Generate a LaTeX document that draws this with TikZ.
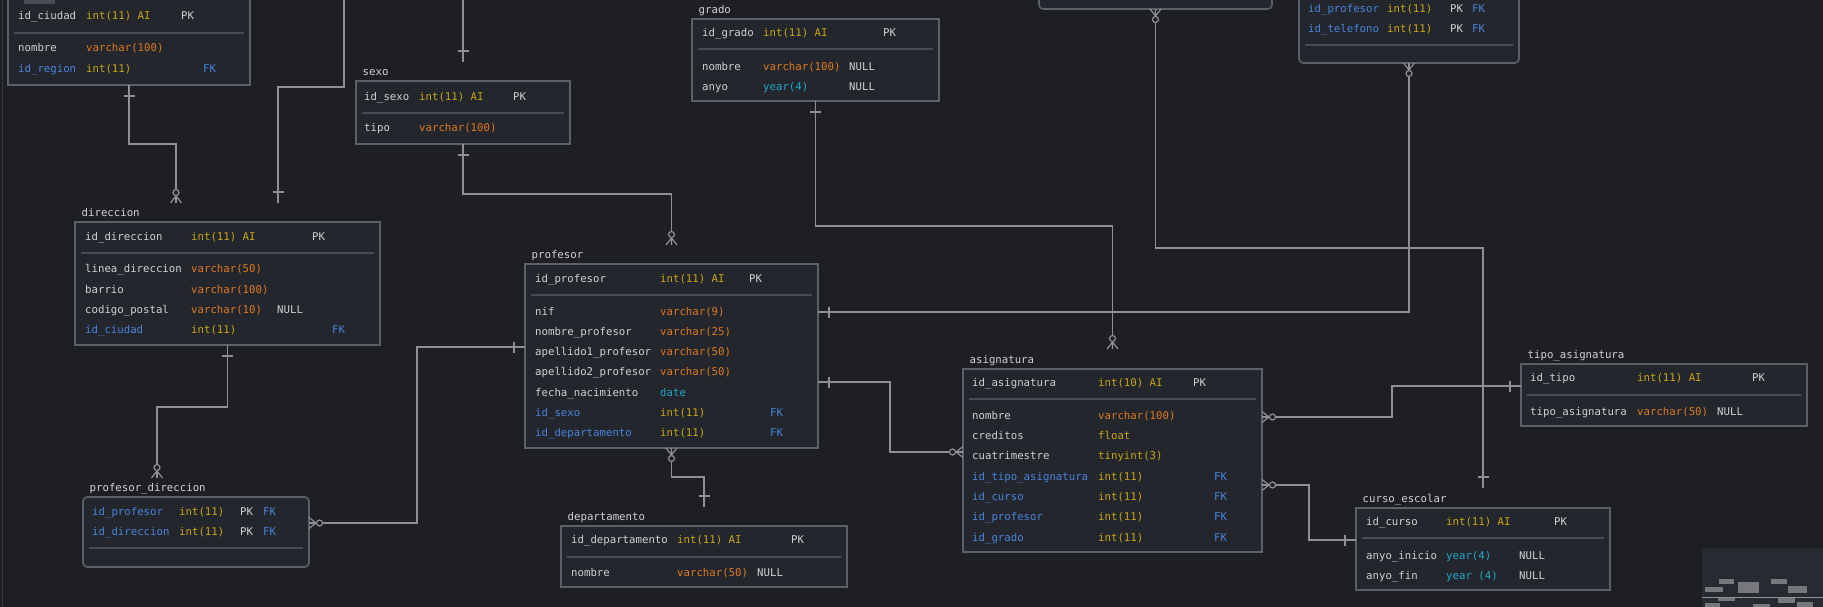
\documentclass[tikz,border=0pt]{standalone}
\usepackage{fontspec}
\newfontfamily\monofam{DejaVu Sans Mono}
\newcommand\cellfont{\monofam\fontsize{10.7}{12}\selectfont}

\definecolor{bg}{HTML}{1E1F23}
\definecolor{tfill}{HTML}{23262D}
\definecolor{tborder}{HTML}{5C6069}
\definecolor{tsep}{HTML}{474B54}
\definecolor{linkc}{HTML}{8E9096}
\definecolor{colw}{HTML}{D2D2D2}
\definecolor{coly}{HTML}{C9A712}
\definecolor{colo}{HTML}{E07A1E}
\definecolor{colb}{HTML}{4A84DC}
\definecolor{colc}{HTML}{22A8C8}
\definecolor{mapbg}{HTML}{272A31}
\definecolor{mapbox}{HTML}{76787D}

\tikzset{
  tbl/.style={draw=tborder, fill=tfill, line width=1.6pt, inner sep=0, outer sep=0, anchor=north west},
  tblr/.style={tbl, rounded corners=4pt},
  sepl/.style={draw=tsep, line width=1.2pt},
  rel/.style={draw=linkc, line width=1.2pt},
  cell/.style={anchor=base west, inner sep=0, yshift=-3.8pt, font=\cellfont},
  tname/.style={cell, text=colw},
  crowmany/.pic={
    \draw[rel] (0,5.5) -- (7,0) -- (0,-5.5) (0,0) -- (7,0);
    \draw[rel, fill=bg] (10.5,0) circle[radius=3pt];
  },
  crowone/.pic={\draw[rel] (11,-5.5) -- (11,5.5);}
}

\begin{document}
\begin{tikzpicture}[x=1pt, y=-1pt]
        \useasboundingbox (0,0) rectangle (1823,607);
        \clip (0,0) rectangle (1823,607);
        \fill[bg] (0,0) rectangle (1823,607);
        \draw[color=tsep!60!bg, line width=1pt] (2,0) -- (2,607);

        % Tables
        \node[tbl, minimum width=242pt, minimum height=105pt] (ciudad) at (8,-20) {};
        \node[tbl, minimum width=214pt, minimum height=63pt] (sexo) at (356,81) {};
        \node[tbl, minimum width=305pt, minimum height=123pt] (direccion) at (75,222) {};
        \node[tblr, minimum width=226pt, minimum height=70pt] (profdir) at (83,497) {};
        \node[tbl, minimum width=293pt, minimum height=184pt] (profesor) at (525,264) {};
        \node[tbl, minimum width=286pt, minimum height=61pt] (departamento) at (561,526) {};
        \node[tbl, minimum width=247pt, minimum height=82pt] (grado) at (692,19) {};
        \node[tblr, minimum width=233pt, minimum height=40pt] (matricula) at (1039,-31) {};
        \node[tblr, minimum width=220pt, minimum height=83pt] (proftel) at (1299,-20) {};
        \node[tbl, minimum width=299pt, minimum height=183pt] (asignatura) at (963,369) {};
        \node[tbl, minimum width=286pt, minimum height=62pt] (tipo) at (1521,364) {};
        \node[tbl, minimum width=254pt, minimum height=82pt] (curso) at (1356,508) {};
        \fill[tborder!70!bg] (24,0) rectangle (55,4);

        % Table names
        \foreach \tb/\name in {sexo/sexo, direccion/direccion, profdir/profesor\_direccion,
            profesor/profesor, departamento/departamento, grado/grado, asignatura/asignatura,
            tipo/tipo\_asignatura, curso/curso\_escolar}
            \node[tname] (\tb-name) at ([shift={(6.5,-9.5)}]\tb.north west) {\name};

        % Separators
        \foreach \a/\b/\y in {14/244/33, 362/564/113, 81/374/253, 89/303/548, 531/812/295,
            567/841/557, 698/933/49, 1305/1513/45, 969/1256/399, 1527/1801/395, 1362/1604/538}
            \draw[sepl] (\a,\y) -- (\b,\y);

        % Columns
        \foreach \x/\y/\cl/\txt [count=\i] in {
            18/16/w/id\_ciudad, 86/16/y/int(11) AI, 181/16/w/PK,
            18/48/w/nombre, 86/48/o/varchar(100),
            18/69/b/id\_region, 86/69/y/int(11), 203/69/b/FK,
            364/97/w/id\_sexo, 419/97/y/int(11) AI, 513/97/w/PK,
            364/128/w/tipo, 419/128/o/varchar(100),
            85/237/w/id\_direccion, 191/237/y/int(11) AI, 312/237/w/PK,
            85/269/w/linea\_direccion, 191/269/o/varchar(50),
            85/290/w/barrio, 191/290/o/varchar(100),
            85/310/w/codigo\_postal, 191/310/o/varchar(10), 277/310/w/NULL,
            85/330/b/id\_ciudad, 191/330/y/int(11), 332/330/b/FK,
            92/512/b/id\_profesor, 179/512/y/int(11), 240/512/w/PK, 263/512/b/FK,
            92/532/b/id\_direccion, 179/532/y/int(11), 240/532/w/PK, 263/532/b/FK,
            535/279/w/id\_profesor, 660/279/y/int(11) AI, 749/279/w/PK,
            535/312/w/nif, 660/312/o/varchar(9),
            535/332/w/nombre\_profesor, 660/332/o/varchar(25),
            535/352/w/apellido1\_profesor, 660/352/o/varchar(50),
            535/372/w/apellido2\_profesor, 660/372/o/varchar(50),
            535/393/w/fecha\_nacimiento, 660/393/c/date,
            535/413/b/id\_sexo, 660/413/y/int(11), 770/413/b/FK,
            535/433/b/id\_departamento, 660/433/y/int(11), 770/433/b/FK,
            571/540/w/id\_departamento, 677/540/y/int(11) AI, 791/540/w/PK,
            571/573/w/nombre, 677/573/o/varchar(50), 757/573/w/NULL,
            702/33/w/id\_grado, 763/33/y/int(11) AI, 883/33/w/PK,
            702/67/w/nombre, 763/67/o/varchar(100), 849/67/w/NULL,
            702/87/w/anyo, 763/87/c/year(4), 849/87/w/NULL,
            1308/9/b/id\_profesor, 1387/9/y/int(11), 1450/9/w/PK, 1472/9/b/FK,
            1308/29/b/id\_telefono, 1387/29/y/int(11), 1450/29/w/PK, 1472/29/b/FK,
            972/383/w/id\_asignatura, 1098/383/y/int(10) AI, 1193/383/w/PK,
            972/416/w/nombre, 1098/416/o/varchar(100),
            972/436/w/creditos, 1098/436/y/float,
            972/456/w/cuatrimestre, 1098/456/y/tinyint(3),
            972/477/b/id\_tipo\_asignatura, 1098/477/y/int(11), 1214/477/b/FK,
            972/497/b/id\_curso, 1098/497/y/int(11), 1214/497/b/FK,
            972/517/b/id\_profesor, 1098/517/y/int(11), 1214/517/b/FK,
            972/538/b/id\_grado, 1098/538/y/int(11), 1214/538/b/FK,
            1530/378/w/id\_tipo, 1637/378/y/int(11) AI, 1752/378/w/PK,
            1530/412/w/tipo\_asignatura, 1637/412/o/varchar(50), 1717/412/w/NULL,
            1366/522/w/id\_curso, 1446/522/y/int(11) AI, 1554/522/w/PK,
            1366/556/w/anyo\_inicio, 1446/556/c/year(4), 1519/556/w/NULL,
            1366/576/w/anyo\_fin, 1446/576/c/year (4), 1519/576/w/NULL}
            \node[cell, text=col\cl] (col-\i) at (\x,\y) {\txt};

        % Link ends
        \coordinate (dirA) at ([shift={(101,-19)}]direccion.north west);
        \coordinate (dirB) at ([shift={(203,-19)}]direccion.north west);
        \coordinate (sexoIn) at ([yshift=19pt]sexo.north);
        \coordinate (profIn) at ([yshift=19pt]profesor.north);
        \coordinate (pdIn) at ([shift={(74,-19)}]profdir.north west);
        \coordinate (pdR) at ([shift={(0,26)}]profdir.north east);
        \coordinate (pfL) at ([shift={(0,83)}]profesor.north west);
        \coordinate (pfR1) at ([shift={(0,48)}]profesor.north east);
        \coordinate (pfR2) at ([shift={(0,118)}]profesor.north east);
        \coordinate (depIn) at ([yshift=19pt]departamento.north);
        \coordinate (asIn) at ([yshift=20pt]asignatura.north);
        \coordinate (asL) at ([shift={(0,83)}]asignatura.north west);
        \coordinate (asR1) at ([shift={(0,48)}]asignatura.north east);
        \coordinate (asR2) at ([shift={(0,116)}]asignatura.north east);
        \coordinate (tipoL) at ([shift={(0,22)}]tipo.north west);
        \coordinate (cursoIn) at ([yshift=20pt]curso.north);
        \coordinate (cursoL) at ([shift={(0,32)}]curso.north west);
        \coordinate (topB) at (344,-5);
        \coordinate (topC) at (463,-5);

        % Edges
        \draw[rel] (ciudad.south) -- ++(0,59) -| (dirA);
        \draw[rel] (topB) -- ++(0,92) -| (dirB);
        \draw[rel] (topC) -- (sexoIn);
        \draw[rel] (sexo.south) -- ++(0,50) -| (profIn);
        \draw[rel] (direccion.south) -- ++(0,62) -| (pdIn);
        \draw[rel] (pfL) -- ++(-108,0) |- (pdR);
        \draw[rel] (profesor.south) -- ++(0,29) -| (depIn);
        \draw[rel] (grado.south) -- ++(0,125) -| (asIn);
        \draw[rel] (matricula.south) -- ++(0,239) -| (cursoIn);
        \draw[rel] (pfR1) -| (proftel.south);
        \draw[rel] (pfR2) -- ++(72,0) |- (asL);
        \draw[rel] (asR1) -- ++(130,0) |- (tipoL);
        \draw[rel] (asR2) -- ++(47,0) |- (cursoL);

        % Ends
        \foreach \p/\r in {dirA/90, profIn/90, pdIn/90, asIn/90, pdR/0, profesor.south/-90,
            matricula.south/-90, proftel.south/-90, asL/180, asR1/0, asR2/0}
            \pic[rotate=\r] at (\p) {crowmany};
        \foreach \p/\r in {ciudad.south/-90, dirB/90, sexoIn/90, sexo.south/-90, direccion.south/-90,
            pfL/180, depIn/90, grado.south/-90, cursoIn/90, pfR1/0, pfR2/0, tipoL/180, cursoL/180}
            \pic[rotate=\r] at (\p) {crowone};

        % Minimap
        \fill[mapbg, rounded corners=3pt] (1702,548) rectangle (1835,620);
        \foreach \a/\b/\c/\d in {1719/579/1734/584, 1705/587/1723/592, 1738/582/1759/593,
            1771/579/1787/584, 1788/586/1807/593, 1718/597/1735/601, 1778/597/1795/603,
            1797/602/1813/607, 1705/603/1720/607, 1753/604/1770/607}
            \fill[mapbox] (\a,\b) rectangle (\c,\d);
        \draw[mapbox!80!white, line width=1.2pt] (1702,597.5) -- (1823,597.5);
\end{tikzpicture}
\end{document}
